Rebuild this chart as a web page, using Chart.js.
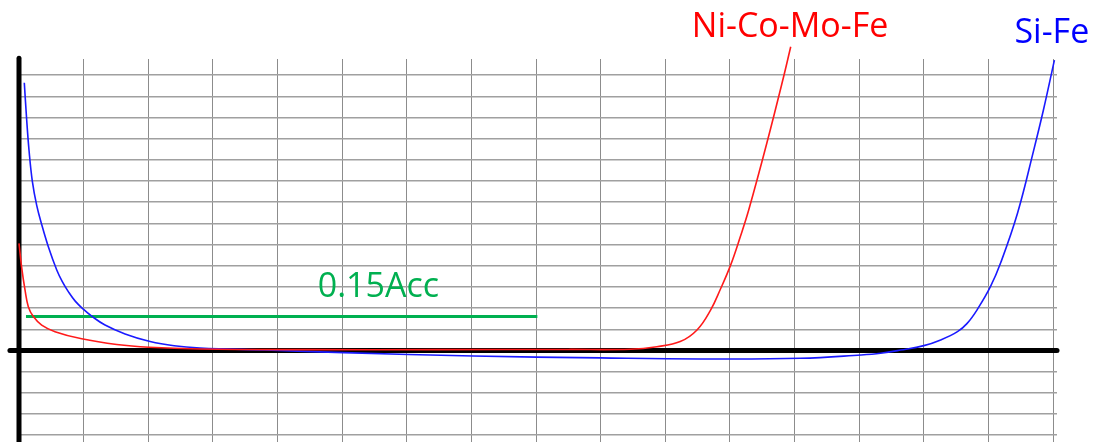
<!DOCTYPE html>
<html>
<head>
<meta charset="utf-8">
<script src="https://cdn.jsdelivr.net/npm/chart.js@4/dist/chart.umd.min.js"></script>
<style>
  html, body { margin: 0; padding: 0; background: #fff; }
  #wrap { width: 1109px; height: 442px; }
</style>
</head>
<body>
<div id="wrap"><canvas id="curves" width="1109" height="442"></canvas></div>
<script>
// Si-Fe curve (blue)
const siFeX = [0.082, 0.119, 0.155, 0.206, 0.274, 0.351, 0.454, 0.584, 0.67, 0.763, 0.87, 0.995, 1.125, 1.331, 1.641, 2.028, 2.4, 2.8, 3.8, 5.02, 7.03, 8.99, 10.54, 12.09, 13.03, 13.33, 13.64, 14.0, 14.26, 14.52, 14.67, 14.83, 15.03, 15.19, 15.45, 15.70, 15.85, 16.02];
const siFeY = [12.64, 10.88, 9.45, 8.0, 6.85, 5.95, 4.90, 3.80, 3.25, 2.78, 2.33, 1.95, 1.62, 1.20, 0.78, 0.42, 0.22, 0.12, 0.02, -0.10, -0.26, -0.35, -0.40, -0.37, -0.21, -0.13, 0.02, 0.23, 0.50, 0.89, 1.28, 1.95, 3.01, 4.15, 6.49, 9.46, 11.35, 13.71];

// Ni-Co-Mo-Fe curve (red)
const niCoX = [0.0, 0.04, 0.093, 0.144, 0.222, 0.351, 0.557, 0.97, 1.512, 2.012, 2.80, 4.5, 6.5, 8.5, 9.46, 9.87, 10.23, 10.49, 10.70, 10.85, 11.01, 11.16, 11.29, 11.57, 11.83, 11.94];
const niCoY = [5.06, 3.95, 2.86, 2.07, 1.60, 1.20, 0.89, 0.55, 0.28, 0.15, 0.07, 0.04, 0.04, 0.05, 0.06, 0.18, 0.42, 0.97, 1.91, 2.88, 4.03, 5.37, 6.63, 9.78, 12.92, 14.34];

// 0.15Acc threshold line (green)
const accX = [0.108, 8.02];
const accY = [1.60, 1.60];

// axes drawn as heavy black lines
const axisHX = [-0.14, 16.06];
const axisHY = [0, 0];
const axisVX = [0, 0];
const axisVY = [-4.5, 13.8];

// text labels: text, x, y (data units)
const labelText = ['Ni-Co-Mo-Fe', 'Si-Fe', '0.15Acc'];
const labelX = [11.93, 15.98, 5.56];
const labelY = [14.81, 14.53, 2.51];
const labelColor = ['#ff0000', '#0000ff', '#00b050'];

const toPoints = (xs, ys) => xs.map((x, i) => ({ x: x, y: ys[i] }));

// draw the curve labels
const labelPlugin = {
    id: 'curveLabels',
    afterDatasetsDraw(chart) {
        const ctx = chart.ctx;
        const sx = chart.scales.x;
        const sy = chart.scales.y;
        ctx.save();
        ctx.font = '34px "Open Sans"';
        ctx.textAlign = 'center';
        ctx.textBaseline = 'alphabetic';
        labelText.forEach((t, i) => {
            ctx.fillStyle = labelColor[i];
            ctx.fillText(t, sx.getPixelForValue(labelX[i]), sy.getPixelForValue(labelY[i]));
        });
        ctx.restore();
    }
};

new Chart(document.getElementById('curves').getContext('2d'), {
    type: 'line',
    data: {
        datasets: [
            {
                label: 'Ni-Co-Mo-Fe',
                data: toPoints(niCoX, niCoY),
                borderColor: '#ff1a1a',
                borderWidth: 1.6,
                tension: 0.4,
                pointRadius: 0,
                clip: false,
                order: 1
            },
            {
                label: 'Si-Fe',
                data: toPoints(siFeX, siFeY),
                borderColor: '#1a1aff',
                borderWidth: 1.6,
                tension: 0.4,
                pointRadius: 0,
                clip: false,
                order: 2
            },
            {
                label: '0.15Acc',
                data: toPoints(accX, accY),
                borderColor: '#00b050',
                borderWidth: 3,
                pointRadius: 0,
                order: 3
            },
            {
                label: 'axis-h',
                data: toPoints(axisHX, axisHY),
                borderColor: '#000',
                borderWidth: 5,
                borderCapStyle: 'round',
                pointRadius: 0,
                clip: false,
                order: 10
            },
            {
                label: 'axis-v',
                data: toPoints(axisVX, axisVY),
                borderColor: '#000',
                borderWidth: 5,
                borderCapStyle: 'round',
                pointRadius: 0,
                clip: false,
                order: 10
            }
        ]
    },
    options: {
        responsive: false,
        animation: false,
        layout: { padding: { left: 19, right: 52, top: 59, bottom: 0 } },
        plugins: {
            legend: { display: false },
            tooltip: { enabled: false }
        },
        scales: {
            x: {
                type: 'linear',
                min: 0,
                max: 16.06,
                ticks: { display: false, stepSize: 1, includeBounds: false },
                grid: { color: '#8c8c8c', lineWidth: 1, drawTicks: false },
                border: { display: false }
            },
            y: {
                type: 'linear',
                min: -4.32,
                max: 13.76,
                ticks: { display: false, stepSize: 1, includeBounds: false },
                grid: { color: '#a0a0a0', lineWidth: 1.5, drawTicks: false },
                border: { display: false }
            }
        }
    },
    plugins: [labelPlugin]
});
</script>
</body>
</html>
